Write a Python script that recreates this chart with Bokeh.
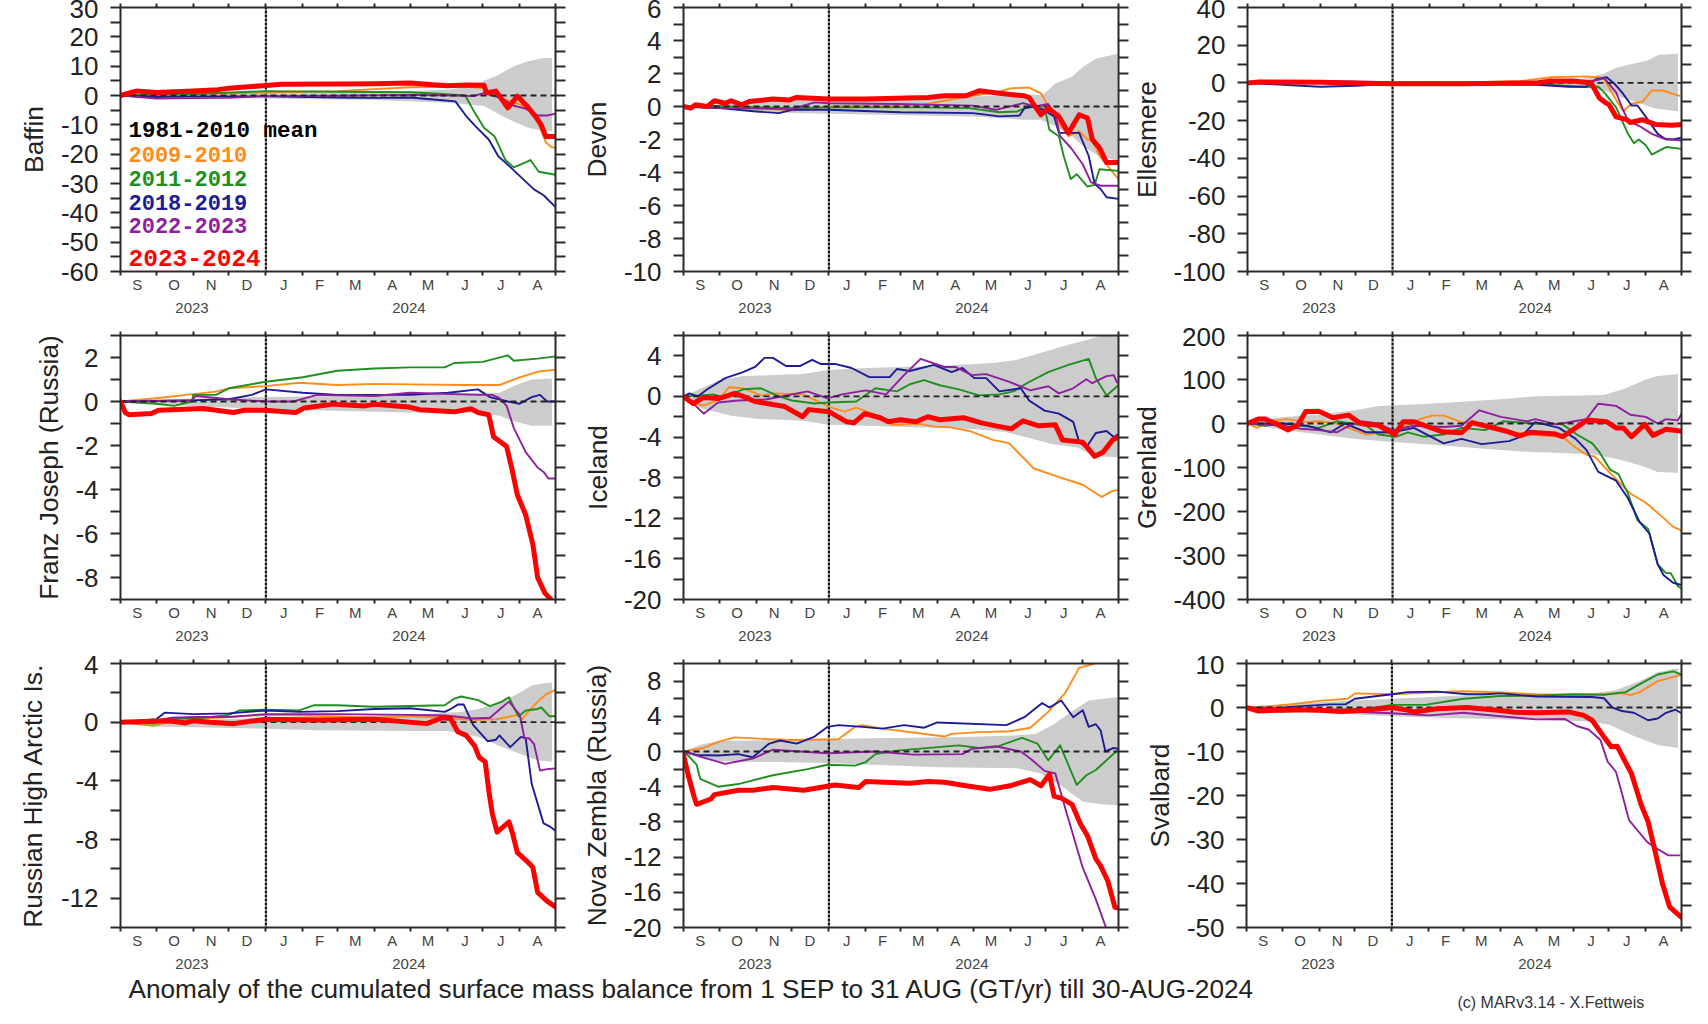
from bokeh.embed import file_html
from bokeh.resources import INLINE
from bokeh.plotting import figure
from bokeh.layouts import column, row
from bokeh.models import Range1d, LinearAxis, FixedTicker, Label, Arrow

MONTH_BOUNDS = [0, 30, 61, 91, 122, 153, 182, 213, 243, 274, 304, 335, 365]
MONTH_MIDS = [14, 45, 76, 106, 137, 167, 197, 228, 258, 289, 319, 350]
MONTH_LABELS = ["S", "O", "N", "D", "J", "F", "M", "A", "M", "J", "J", "A"]
YEAR_POS = [60, 242]
YEAR_LABELS = ["2023", "2024"]
LEGEND_TEXT = ["1981-2010 mean", "2009-2010", "2011-2012", "2018-2019", "2022-2023", "2023-2024"]

BAFFIN_ORANGE = [(0,0),(61,.5),(122,1),(182,1.5),(243,2.8),(290,3),(305,2.5),(320,-1),(335,-3),(345,-5),(350,-9),(357,-16),(362,-17.7),(365,-17.7)]
BAFFIN_GREEN = [(0,0),(61,.5),(122,1.5),(182,1.3),(243,1.1),(270,.5),(288,0),(290,-.5),(296,-5),(305,-11),(314,-14),(323,-22),(330,-24.5),(336,-23.5),(344,-22),(351,-26),(365,-27)]
BAFFIN_BLUE = [(0,0),(30,-.5),(61,-.3),(122,-.3),(182,-.7),(213,-.8),(243,-.7),(270,-1.6),(281,-2),(290,-7),(298,-10.5),(309,-15),(317,-20.7),(326,-24),(338,-28.6),(347,-32),(355,-34),(365,-38)]
BAFFIN_PURPLE = [(0,0),(30,-1),(61,-.9),(91,-.8),(122,-.2),(182,-.1),(243,.2),(280,0),(296,-.2),(305,.8),(320,-1),(330,-3.5),(340,-4.5),(350,-6.8),(358,-6.8),(365,-6.2)]
BAFFIN_RED = [(0,0),(13,1.5),(30,1),(61,1.5),(82,2),(91,2.5),(122,3.4),(135,3.8),(182,3.9),(213,4),(243,4.3),(274,3.3),(290,3.6),(305,3.5),(307,.9),(315,1.5),(325,-4.2),(333,-.2),(342,-4),(349,-7.6),(353,-10),(357,-14),(365,-14)]
BAFFIN_UP = [(0,0),(30,.5),(61,.8),(122,1),(243,1.5),(274,2),(300,3.5),(305,5),(317,7),(330,10),(342,11.7),(355,12.8),(362,12.8)]
BAFFIN_LO = [(0,0),(61,-.8),(122,-1),(213,-1.5),(274,-2.5),(290,-3),(305,-3.6),(323,-7.6),(342,-11),(355,-12),(362,-12.3)]

DEVON_ORANGE = [(0,0),(61,-.1),(91,-.25),(122,0),(200,.1),(230,.5),(265,.9),(274,1.1),(290,1.15),(300,.8),(310,-.5),(318,-1.3),(323,-1.8),(332,-1.5),(339,-2),(343,-2),(349,-3),(365,-4.4)]
DEVON_GREEN = [(0,0),(20,.05),(91,-.1),(122,-.05),(200,-.05),(240,-.1),(265,-.35),(280,-.3),(290,0),(300,0),(304,-.4),(307,-1.4),(315,-1.8),(319,-3),(325,-4.4),(330,-4.1),(339,-4.85),(345,-4.75),(349,-3.8),(365,-3.9)]
DEVON_BLUE = [(0,0),(30,-.1),(61,-.3),(80,-.4),(91,-.2),(122,-.2),(182,-.35),(243,-.4),(265,-.6),(282,-.55),(286,-.1),(295,0),(304,-.3),(311,-.6),(315,-1.6),(332,-1.6),(340,-3),(345,-4.7),(350,-5),(355,-5.5),(365,-5.6)]
DEVON_PURPLE = [(0,0),(30,-.1),(91,-.15),(110,.25),(122,.2),(180,.15),(215,.1),(243,.05),(262,-.2),(285,.2),(295,0),(306,.15),(312,-.5),(316,-1.8),(325,-2.5),(335,-3.5),(342,-4.6),(350,-4.8),(365,-4.8)]
DEVON_RED = [(0,0),(6,-.1),(10,.1),(20,0),(26,.35),(35,.2),(40,.35),(49,.1),(55,.3),(75,.45),(89,.4),(95,.55),(122,.45),(153,.45),(179,.5),(205,.55),(219,.65),(237,.65),(248,.95),(265,.8),(286,.65),(290,.55),(295,0),(300,-.5),(306,-.1),(315,-.6),(323,-1.6),(332,-.5),(339,-.7),(343,-2),(349,-2.5),(355,-3.4),(365,-3.4)]
DEVON_UP = [(0,0),(30,.1),(91,.5),(243,.6),(285,.7),(300,.7),(303,.8),(312,1.4),(326,1.8),(335,2.4),(346,2.9),(364,3.2)]
DEVON_LO = [(0,0),(91,-.4),(243,-.6),(285,-.8),(300,-.8),(312,-1.2),(326,-1.8),(335,-2.4),(346,-2.9),(364,-3.3)]

ELLES_ORANGE = [(0,0),(200,.5),(230,1),(255,3),(285,3.5),(295,3),(300,2),(310,-9),(316,-15),(323,-11),(332,-10),(340,-4),(349,-4),(364,-7)]
ELLES_GREEN = [(0,0),(30,.7),(122,0),(243,-.5),(280,-2),(295,-2),(300,-5),(310,-13),(320,-27),(325,-32),(329,-30),(335,-33),(340,-38),(352,-34),(365,-35)]
ELLES_BLUE = [(0,0),(61,-2),(91,-1.5),(122,-.5),(243,-1),(270,-2),(285,-2),(293,2),(302,3),(308,0),(315,-5),(323,-12),(328,-12),(335,-18),(345,-27),(352,-30),(358,-30),(365,-29)]
ELLES_PURPLE = [(0,0),(61,1),(122,.3),(243,0),(290,1),(300,2.5),(310,-5),(315,-13),(320,-20),(330,-23),(340,-27),(350,-29.5),(365,-30.5)]
ELLES_RED = [(0,0),(10,.5),(61,.3),(122,-.5),(182,-.5),(243,0),(255,1),(274,1),(289,0),(296,-8),(300,-10),(304,-11.5),(310,-18),(319,-19.5),(322,-21),(332,-19.5),(343,-22),(357,-22.5),(365,-22)]
ELLES_UP = [(0,0),(243,1),(280,2),(300,5),(310,8),(337,12),(346,15),(362,15.5)]
ELLES_LO = [(0,0),(243,-1),(285,-2.5),(300,-4),(316,-8),(331,-11),(343,-13.5),(362,-15)]

FRANZ_ORANGE = [(0,0),(30,.15),(55,.3),(80,.45),(91,.6),(122,.7),(150,.85),(182,.75),(213,.8),(243,.78),(290,.75),(318,.75),(335,1.1),(350,1.35),(365,1.45)]
FRANZ_GREEN = [(0,0),(30,-.1),(45,-.2),(60,0),(61,.3),(80,.3),(91,.6),(122,.9),(153,1.1),(182,1.4),(213,1.5),(243,1.55),(272,1.55),(280,1.75),(304,1.8),(325,2.1),(330,1.85),(350,1.95),(365,2.05)]
FRANZ_BLUE = [(0,0),(60,.05),(91,.1),(110,.3),(122,.55),(153,.4),(182,.3),(243,.3),(275,.4),(300,.55),(310,.2),(325,0),(335,-.1),(345,.2),(352,.3),(358,0),(365,0)]
FRANZ_PURPLE = [(0,0),(60,.05),(63,.25),(91,.1),(122,0),(145,0),(165,.3),(213,.25),(243,.4),(300,.3),(312,.3),(318,.15),(324,-.2),(330,-1.2),(340,-2.3),(350,-3),(355,-3.2),(359,-3.5),(365,-3.5)]
FRANZ_RED = [(0,0),(4,-.5),(7,-.6),(26,-.55),(32,-.4),(69,-.32),(95,-.5),(104,-.4),(121,-.4),(147,-.5),(154,-.3),(179,-.12),(205,-.2),(213,-.13),(242,-.25),(251,-.37),(280,-.47),(294,-.33),(300,-.5),(309,-.6),(313,-1.6),(324,-2.05),(329,-3.2),(333,-4.25),(340,-5.15),(346,-6.5),(350,-8),(356,-8.7),(361,-9)]
FRANZ_UP = [(0,0),(30,.1),(122,.2),(243,.3),(300,.4),(318,.4),(330,.7),(345,1),(362,1.05)]
FRANZ_LO = [(0,0),(60,-.2),(122,-.35),(243,-.5),(300,-.5),(318,-.65),(330,-.9),(345,-1.1),(362,-1.1)]

ICE_ORANGE = [(0,0),(9,-.7),(17,-.9),(30,-.3),(38,.9),(50,.8),(65,.1),(75,.3),(100,.2),(122,-1),(135,-1.5),(145,-1.1),(165,-2),(175,-2.8),(198,-2.7),(212,-3),(222,-3),(240,-3.4),(260,-4.3),(273,-4.6),(294,-7.1),(314,-7.9),(335,-8.7),(351,-9.9),(360,-9.3),(365,-9.2)]
ICE_GREEN = [(0,0),(15,.1),(25,.2),(33,-.1),(50,.7),(65,.8),(80,0),(91,-.4),(110,-.7),(122,-.6),(145,-.5),(161,.8),(179,.5),(190,1.2),(202,1.6),(215,1.1),(231,.7),(248,.1),(265,.2),(277,.5),(288,1.3),(306,2.4),(323,3.1),(340,3.7),(346,1.8),(355,.1),(365,1.1)]
ICE_BLUE = [(0,0),(5,.3),(12,0),(20,.7),(35,1.8),(50,2.4),(60,2.9),(68,3.8),(75,3.8),(86,3),(98,3),(108,3.6),(115,3.2),(127,3.2),(141,2.8),(156,1.9),(173,1.9),(179,2.7),(190,2.5),(210,3.1),(225,2.4),(234,2.8),(244,1.8),(254,1.8),(265,.5),(283,.8),(290,-.4),(303,-1.4),(315,-1.7),(327,-2.5),(332,-4.5),(338,-5),(346,-3.6),(355,-3.4),(361,-4),(365,-3.7)]
ICE_PURPLE = [(0,0),(5,-.3),(10,-.9),(17,-1.7),(29,-.6),(46,-.4),(69,-.3),(104,.5),(121,-.2),(133,.2),(153,.6),(170,.2),(185,2.1),(199,3.7),(219,2.9),(228,2.9),(242,2.1),(254,2.2),(274,1.4),(291,.6),(306,1),(315,.3),(327,.8),(338,1.7),(343,1.3),(355,2),(361,2.1),(364,1.3)]
ICE_RED = [(0,0),(8,-.7),(17,-.1),(30,-.2),(43,.3),(50,0),(60,-.5),(75,-.8),(85,-1),(100,-2),(105,-1.3),(122,-1.5),(137,-2.5),(143,-2.6),(152,-1.7),(165,-2.1),(172,-2.5),(182,-2.3),(195,-2.5),(205,-2),(215,-2.3),(235,-2.1),(250,-2.6),(262,-2.9),(275,-3.2),(285,-2.4),(298,-2.9),(312,-2.8),(318,-4.3),(335,-4.5),(345,-5.9),(352,-5.5),(360,-4.3),(365,-4)]
ICE_UP = [(0,0),(15,.8),(30,1.6),(50,2),(100,2.2),(122,2.6),(153,2.8),(213,3),(260,3.3),(280,3.6),(300,4.3),(320,5),(340,5.6),(350,6),(365,6)]
ICE_LO = [(0,0),(15,-1.2),(40,-1.9),(61,-2.2),(100,-2.4),(122,-2.8),(153,-2.9),(243,-3.2),(270,-3.5),(290,-4.1),(310,-4.7),(330,-5),(345,-5.9),(365,-6)]

GREEN_ORANGE = [(0,0),(8,-10),(20,5),(33,10),(50,3),(60,5),(75,0),(90,-15),(100,-25),(108,-22),(122,-20),(145,10),(155,18),(165,18),(180,3),(190,1),(205,-10),(235,-25),(265,-30),(276,-55),(286,-72),(292,-75),(304,-110),(322,-159),(335,-180),(350,-215),(358,-235),(365,-243)]
GREEN_GREEN = [(0,0),(15,-5),(30,0),(60,-10),(75,5),(100,-5),(110,-25),(125,-30),(135,-20),(148,-30),(165,-25),(180,-10),(200,-15),(215,5),(240,0),(265,-2),(277,-25),(290,-45),(296,-65),(305,-105),(312,-115),(320,-160),(328,-220),(337,-240),(345,-320),(352,-340),(356,-340),(362,-370),(365,-375)]
GREEN_BLUE = [(0,0),(30,0),(50,-5),(70,-20),(82,0),(100,-20),(122,-20),(140,-10),(165,-45),(180,-35),(197,-47),(220,-40),(230,-30),(242,3),(262,-10),(276,-35),(285,-60),(295,-110),(310,-130),(320,-170),(330,-225),(338,-250),(345,-320),(350,-345),(358,-362),(365,-367)]
GREEN_PURPLE = [(0,0),(30,-5),(45,-12),(60,-15),(75,-20),(82,-10),(95,5),(110,0),(122,-15),(140,-5),(165,-8),(180,-5),(195,30),(213,15),(235,5),(242,10),(260,-2),(275,5),(285,10),(295,45),(310,40),(322,20),(335,15),(345,0),(352,10),(362,7),(365,22)]
GREEN_RED = [(0,0),(9,10),(15,10),(24,0),(34,-15),(42,-4),(49,27),(60,28),(72,13),(85,19),(95,0),(110,-4),(124,-25),(131,4),(140,4),(164,-19),(180,-21),(189,2),(217,-17),(229,-28),(238,-20),(259,-24),(265,-30),(276,-10),(286,8),(302,4),(310,-10),(316,-10),(323,-30),(334,-2),(341,-27),(352,-13),(364,-17)]
GREEN_UP = [(0,0),(30,15),(60,20),(91,30),(110,40),(153,45),(213,55),(243,62),(300,65),(318,80),(335,100),(345,108),(362,112)]
GREEN_LO = [(0,0),(30,-15),(61,-25),(91,-35),(122,-42),(165,-50),(213,-60),(240,-65),(290,-70),(310,-80),(330,-95),(345,-110),(362,-112)]

RUSS_ORANGE = [(0,0),(15,-.15),(28,-.25),(35,-.1),(61,.2),(91,.35),(122,.5),(182,.4),(213,.3),(243,.4),(270,.3),(295,.15),(315,.2),(325,.35),(333,.5),(337,.2),(342,.7),(350,1.4),(358,1.95),(365,2.2)]
RUSS_GREEN = [(0,0),(28,-.1),(40,.2),(70,.3),(91,.5),(100,.8),(122,.85),(150,.8),(162,1.15),(182,1.15),(213,1.05),(243,1.1),(272,1.15),(280,1.6),(286,1.75),(300,1.5),(310,1.1),(320,1.4),(326,1.7),(330,1),(334,.4),(340,.8),(350,.9),(353,1),(360,.4),(365,.4)]
RUSS_BLUE = [(0,0),(30,.2),(37,.65),(61,.55),(91,.6),(122,.8),(150,.7),(182,.75),(213,.9),(243,.95),(272,.7),(276,.85),(283,1.2),(288,1.2),(296,-.2),(308,-1.3),(315,-1.2),(318,-.9),(327,-1.7),(336,-1),(340,-1.1),(345,-4.2),(355,-6.9),(360,-7.1),(365,-7.4)]
RUSS_PURPLE = [(0,0),(15,-.1),(43,.3),(61,.35),(91,.35),(122,.55),(182,.55),(243,.5),(272,.45),(285,.35),(295,.25),(310,.3),(320,1),(326,1.4),(330,1),(335,.5),(339,-1.1),(343,-1.1),(347,-1.5),(352,-3.3),(358,-3.2),(365,-3.15)]
RUSS_RED = [(0,0),(20,.05),(40,.1),(55,-.05),(61,.1),(75,0),(95,-.1),(122,.2),(165,.15),(213,.2),(257,-.1),(270,.3),(277,.25),(283,-.65),(290,-.9),(297,-1.6),(301,-2.4),(306,-2.7),(309,-4.65),(312,-6.25),(316,-7.5),(326,-6.8),(329,-7.6),(333,-8.9),(340,-9.4),(346,-9.9),(350,-11.6),(358,-12.2),(365,-12.6)]
RUSS_UP = [(0,0),(30,.05),(122,.3),(243,.5),(285,.7),(300,.9),(320,1.4),(335,2),(345,2.5),(355,2.65),(362,2.7)]
RUSS_LO = [(0,0),(30,-.3),(122,-.45),(165,-.55),(243,-.6),(275,-.6),(300,-1),(320,-1.7),(340,-2.3),(350,-2.6),(362,-2.7)]

NOVA_ORANGE = [(0,0),(17,.4),(29,1.1),(43,1.6),(72,1.4),(92,1.3),(130,1.4),(144,2.8),(150,3),(167,2.6),(219,1.7),(225,2),(248,2.2),(274,2.3),(291,2.7),(306,4.5),(320,6.6),(332,9.5),(345,10)]
NOVA_GREEN = [(0,0),(5,-.6),(11,-1.5),(14,-3.1),(29,-4),(46,-3.7),(75,-2.7),(104,-2),(121,-1.5),(144,-1.6),(153,-1.2),(161,-.3),(179,.1),(231,.7),(248,.4),(262,.5),(284,1.55),(297,.9),(306,-1),(316,.7),(330,-3.8),(338,-2.7),(346,-2.1),(363,0)]
NOVA_BLUE = [(0,0),(11,-.4),(29,-.45),(46,-.3),(58,-.65),(72,.9),(81,1.25),(95,.9),(110,1.7),(121,2.8),(130,3),(150,2.8),(167,2.6),(185,3),(202,2.7),(213,3.3),(271,3),(286,3.9),(301,5.5),(307,5),(317,5.8),(327,3.9),(335,4.7),(340,2.8),(346,3.1),(350,2.4),(354,0),(361,.4),(365,.3)]
NOVA_PURPLE = [(0,0),(17,-.7),(35,-1.4),(58,-.8),(75,.2),(121,-.2),(161,0),(193,-.35),(234,-.3),(242,.3),(262,.6),(283,0),(291,-.8),(303,-2.2),(312,-2.5),(320,-6.3),(335,-13.2),(346,-16.8),(355,-20.2)]
NOVA_RED = [(0,-.4),(4,-2.7),(9,-5.2),(11,-6),(23,-5.4),(26,-4.9),(46,-4.4),(58,-4.4),(75,-4.1),(101,-4.4),(127,-3.8),(147,-4.1),(153,-3.4),(190,-3.6),(205,-3.4),(219,-3.5),(237,-3.9),(257,-4.3),(274,-3.9),(291,-3.2),(300,-3.9),(307,-2.6),(311,-5.1),(317,-5.3),(326,-6),(333,-8.2),(339,-9.6),(346,-12.2),(350,-13),(356,-14.7),(362,-17.7),(365,-17.8)]
NOVA_UP = [(0,0),(15,.8),(30,1.2),(122,1.4),(153,1.5),(213,1.6),(274,1.8),(295,2),(310,3),(325,4.5),(340,5.8),(365,6.2)]
NOVA_LO = [(0,0),(15,-.8),(30,-1.1),(122,-1.3),(213,-1.8),(280,-1.9),(300,-2.5),(318,-4),(335,-5.7),(350,-6),(365,-6.1)]

SVAL_ORANGE = [(0,0),(20,.3),(40,.8),(61,1.5),(85,2),(91,3.2),(122,3),(153,3.4),(182,3.7),(213,3.4),(243,3),(274,2.9),(300,3),(315,3.3),(322,2.8),(330,3.5),(345,6),(365,7.4)]
SVAL_GREEN = [(0,0),(30,-1),(61,-.6),(100,-.3),(122,.6),(150,.6),(182,2),(213,2.6),(243,2.7),(274,3),(300,2.9),(318,3.5),(330,5.3),(345,7.5),(358,8.2),(365,7.5)]
SVAL_BLUE = [(0,0),(20,-.3),(40,.2),(70,.7),(83,.7),(91,2),(122,3),(135,3.5),(160,3.6),(185,3),(200,3),(213,3.2),(243,2.5),(290,2.4),(300,2.1),(307,0),(315,-.8),(325,-1.2),(337,-2.9),(345,-2.5),(352,-1.2),(360,-.5),(365,-1.3)]
SVAL_PURPLE = [(0,0),(61,-.7),(122,-1.3),(153,-1.8),(182,-1.2),(213,-2),(243,-2.7),(267,-2.6),(277,-4.2),(287,-5),(297,-7.4),(303,-12.3),(310,-14.6),(315,-19.5),(321,-25.6),(328,-27.9),(336,-30.5),(342,-31.7),(354,-33.6),(364,-33.6)]
SVAL_RED = [(0,0),(10,-.8),(40,-.5),(61,-.6),(80,-.9),(100,-.6),(122,0),(135,-.6),(140,-1),(160,-.3),(185,0),(213,-.7),(225,-1.1),(243,-1.2),(270,-1),(283,-1.8),(290,-2.9),(300,-6.7),(306,-8.9),(311,-8.8),(323,-15),(331,-22),(337,-26),(342,-31.7),(349,-40),(355,-45.3),(365,-47.7)]
SVAL_UP = [(0,0),(30,.7),(61,1.2),(122,2),(182,2.7),(243,2.9),(290,3.2),(310,4),(330,6),(345,8),(362,9)]
SVAL_LO = [(0,0),(30,-.7),(61,-1.2),(122,-2),(182,-2.5),(243,-2.8),(290,-3.2),(305,-4),(325,-6.5),(345,-8.5),(362,-9.2)]

PANELS = [
    [("Baffin", -60, 30, 10, 5, -60, 9, BAFFIN_ORANGE, BAFFIN_GREEN, BAFFIN_BLUE, BAFFIN_PURPLE, BAFFIN_RED, BAFFIN_UP, BAFFIN_LO),
     ("Devon", -10, 6, 2, 1, -10, 9, DEVON_ORANGE, DEVON_GREEN, DEVON_BLUE, DEVON_PURPLE, DEVON_RED, DEVON_UP, DEVON_LO),
     ("Ellesmere", -100, 40, 20, 10, -100, 8, ELLES_ORANGE, ELLES_GREEN, ELLES_BLUE, ELLES_PURPLE, ELLES_RED, ELLES_UP, ELLES_LO)],
    [("Franz Joseph (Russia)", -9, 3, 2, 1, -8, 8, FRANZ_ORANGE, FRANZ_GREEN, FRANZ_BLUE, FRANZ_PURPLE, FRANZ_RED, FRANZ_UP, FRANZ_LO),
     ("Iceland", -20, 6, 4, 2, -20, 8, ICE_ORANGE, ICE_GREEN, ICE_BLUE, ICE_PURPLE, ICE_RED, ICE_UP, ICE_LO),
     ("Greenland", -400, 200, 100, 50, -400, 8, GREEN_ORANGE, GREEN_GREEN, GREEN_BLUE, GREEN_PURPLE, GREEN_RED, GREEN_UP, GREEN_LO)],
    [("Russian High Arctic Is.", -14, 4, 4, 2, -12, 10, RUSS_ORANGE, RUSS_GREEN, RUSS_BLUE, RUSS_PURPLE, RUSS_RED, RUSS_UP, RUSS_LO),
     ("Nova Zembla (Russia)", -20, 10, 4, 2, -20, 9, NOVA_ORANGE, NOVA_GREEN, NOVA_BLUE, NOVA_PURPLE, NOVA_RED, NOVA_UP, NOVA_LO),
     ("Svalbard", -50, 10, 10, 5, -50, 9, SVAL_ORANGE, SVAL_GREEN, SVAL_BLUE, SVAL_PURPLE, SVAL_RED, SVAL_UP, SVAL_LO)],
]

TITLE = "Anomaly of the cumulated surface mass balance from 1 SEP to 31 AUG (GT/yr) till 30-AUG-2024"
CREDIT = "(c) MARv3.14 - X.Fettweis"

C_ORANGE, C_GREEN, C_BLUE, C_PURPLE, C_RED = "#ff8c1a", "#1f8f1f", "#1c1c96", "#8f1f9f", "#ff0000"
INK = "#2a2a2a"
SANS = "Liberation Sans"
# figure layout per column: width, left border, right border
COLS = [(563, 116, 12), (562, 116, 11), (568, 117, 16)]
ROW_HEIGHTS = [328, 328, 320]
TOP_B = 8
FRAME_H = 264


def seq(lo, hi, step):
    out, v = [], lo
    while v <= hi:
        out.append(v)
        v += step
    return out


def style_axis(ax):
    ax.axis_line_color = INK
    ax.axis_line_width = 2
    ax.major_tick_line_color = INK
    ax.minor_tick_line_color = INK
    ax.major_tick_line_width = 2
    ax.minor_tick_line_width = 2
    ax.major_tick_in = 0
    ax.minor_tick_in = 0
    ax.major_label_standoff = 0


def pairs(data):
    return [d for d, _ in data], [v for _, v in data]


def panel(spec, col, row_h):
    name, lo, hi, step, minor, first, lab_off, orange, green, blue, purple, red, up, low = spec
    width, bl, br = COLS[col]
    p = figure(width=width, height=row_h, output_backend="svg", toolbar_location=None,
               x_range=Range1d(0, 365), y_range=Range1d(lo, hi),
               min_border_left=bl, min_border_right=br, min_border_top=TOP_B,
               min_border_bottom=row_h - TOP_B - FRAME_H,
               x_axis_type=None, y_axis_type=None, outline_line_color=None)
    p.grid.visible = False

    majors = seq(first, hi, step)
    minors = [v for v in seq(lo, hi, minor) if v not in majors]
    left = LinearAxis(ticker=FixedTicker(ticks=majors, minor_ticks=minors),
                      major_label_overrides={v: str(v) for v in majors})
    style_axis(left)
    left.major_tick_out = 10
    left.minor_tick_out = 10
    left.major_label_standoff = 12
    left.major_label_text_font = SANS
    left.major_label_text_font_size = "26px"
    left.major_label_text_color = "#222222"
    left.axis_label = name
    left.axis_label_standoff = lab_off
    left.axis_label_text_font = SANS
    left.axis_label_text_font_style = "normal"
    left.axis_label_text_font_size = "26.3px"
    left.axis_label_text_color = "#222222"
    p.add_layout(left, "left")

    right = LinearAxis(ticker=FixedTicker(ticks=[], minor_ticks=majors + minors))
    style_axis(right)
    right.major_tick_out = 0
    right.minor_tick_out = 10
    p.add_layout(right, "right")

    top = LinearAxis(ticker=FixedTicker(ticks=[], minor_ticks=MONTH_BOUNDS))
    style_axis(top)
    top.major_tick_out = 0
    top.minor_tick_out = 4
    p.add_layout(top, "above")

    bottom = LinearAxis(ticker=FixedTicker(ticks=MONTH_MIDS, minor_ticks=MONTH_BOUNDS),
                        major_label_overrides=dict(zip(MONTH_MIDS, MONTH_LABELS)))
    style_axis(bottom)
    bottom.major_tick_out = 0
    bottom.minor_tick_out = 4
    bottom.major_label_standoff = 0
    bottom.major_label_text_font = SANS
    bottom.major_label_text_font_size = "15px"
    bottom.major_label_text_color = "#444444"
    p.add_layout(bottom, "below")

    years = LinearAxis(ticker=FixedTicker(ticks=YEAR_POS),
                       major_label_overrides=dict(zip(YEAR_POS, YEAR_LABELS)))
    style_axis(years)
    years.axis_line_color = None
    years.major_tick_line_color = None
    years.minor_tick_line_color = None
    years.major_tick_out = 0
    years.minor_tick_out = 0
    years.major_label_standoff = 7
    years.major_label_text_font = SANS
    years.major_label_text_font_size = "15px"
    years.major_label_text_color = "#444444"
    p.add_layout(years, "below")

    ux, uy = pairs(up)
    lx, ly = pairs(low)
    band = p.patch(ux + lx[::-1], uy + ly[::-1], fill_color="#cccccc", line_color=None)
    band.level = "image"

    per_px = (hi - lo) / FRAME_H
    p.add_layout(Arrow(end=None, x_start=122, x_end=122,
                       y_start=lo - 10 * per_px, y_end=hi + 9 * per_px,
                       line_color="#111111", line_width=2.2, line_dash=[3, 1], level="underlay"))

    for data, color in ((orange, C_ORANGE), (green, C_GREEN), (blue, C_BLUE), (purple, C_PURPLE)):
        x, y = pairs(data)
        p.line(x, y, line_color=color, line_width=1.9, line_join="round")
    p.line([0, 365], [0, 0], line_color="#222222", line_width=1.8, line_dash=[6, 4])
    x, y = pairs(red)
    p.line(x, y, line_color=C_RED, line_width=5, line_join="round", line_cap="round")
    return p


rows = []
for r, row_specs in enumerate(PANELS):
    figs = [panel(spec, c, ROW_HEIGHTS[r]) for c, spec in enumerate(row_specs)]
    rows.append(row(*figs))

# legend in the Baffin panel
base = rows[0].children[0]
legend_sizes = ["22.5px", "22px", "22px", "22px", "22px", "24.5px"]
legend_colors = ["#000000", C_ORANGE, C_GREEN, C_BLUE, C_PURPLE, C_RED]
legend_py = [130, 154, 178, 202, 225, 257]
for txt, size, color, py in zip(LEGEND_TEXT, legend_sizes, legend_colors, legend_py):
    base.add_layout(Label(x=8, x_units="screen", y=30 - (py - 7) / FRAME_H * 90, y_units="data", text=txt,
                          text_align="left", text_baseline="middle", text_font="Liberation Mono",
                          text_font_style="bold", text_font_size=size, text_color=color))

footer = figure(width=1690, height=45, output_backend="svg", toolbar_location=None,
                x_range=Range1d(0, 1690), y_range=Range1d(45, 0),
                x_axis_type=None, y_axis_type=None, outline_line_color=None,
                min_border=0)
footer.grid.visible = False
footer.add_layout(Label(x=124, y=13, text=TITLE, text_align="left", text_baseline="middle",
                        text_font=SANS, text_font_size="26.2px", text_color="#222222"))
footer.add_layout(Label(x=1453, y=27, text=CREDIT, text_align="left", text_baseline="middle",
                        text_font=SANS, text_font_size="16px", text_color="#333333"))

root = column(*rows, footer, spacing=0, margin=(-1, 0, 0, 4))
open("out.html", "w").write(file_html(root, INLINE))
